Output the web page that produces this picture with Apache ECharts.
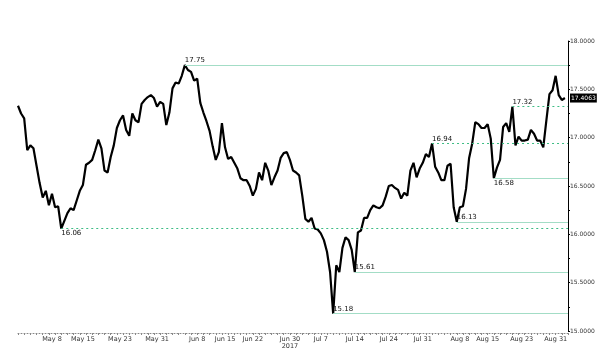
<!DOCTYPE html>
<html>
<head>
<meta charset="utf-8">
<script src="https://cdn.jsdelivr.net/npm/echarts@6/dist/echarts.min.js"></script>
<style>html,body{margin:0;padding:0;background:#fff}#c{width:600px;height:364px}</style>
</head>
<body>
<div id="c"></div>
<script>
// Price path, two samples per trading day (May 1 - Aug 31, 2017)
var closes = [
17.33,17.25,17.20,16.87,16.92,16.89,16.71,16.53,16.38,16.45,
16.30,16.42,16.28,16.29,16.06,16.14,16.22,16.27,16.25,16.35,
16.45,16.51,16.72,16.74,16.77,16.87,16.98,16.89,16.66,16.64,
16.80,16.92,17.10,17.18,17.23,17.08,17.02,17.25,17.18,17.16,
17.35,17.39,17.42,17.44,17.41,17.32,17.37,17.35,17.13,17.26,
17.51,17.57,17.56,17.64,17.75,17.70,17.68,17.59,17.61,17.36,
17.26,17.17,17.07,16.91,16.77,16.85,17.15,16.90,16.78,16.80,
16.74,16.68,16.58,16.56,16.56,16.50,16.40,16.47,16.64,16.56,
16.74,16.66,16.51,16.59,16.66,16.79,16.84,16.85,16.77,16.66,
16.64,16.61,16.40,16.16,16.13,16.17,16.06,16.05,16.01,15.94,
15.82,15.61,15.18,15.68,15.61,15.86,15.97,15.94,15.84,15.61,
16.02,16.04,16.17,16.17,16.25,16.30,16.28,16.27,16.30,16.39,
16.50,16.51,16.48,16.46,16.37,16.43,16.40,16.66,16.74,16.59,
16.68,16.74,16.83,16.80,16.94,16.70,16.64,16.56,16.56,16.71,
16.73,16.28,16.13,16.28,16.29,16.47,16.79,16.94,17.16,17.14,
17.10,17.10,17.14,16.99,16.58,16.69,16.77,17.11,17.15,17.06,
17.32,16.92,17.01,16.97,16.97,16.98,17.08,17.04,16.97,16.97,
16.90,17.18,17.45,17.49,17.64,17.44,17.39,17.41
];
var lastPrice = 17.4063;

// x tick labels and the sample slot each sits on
var tickLabels = ['May 8','May 15','May 23','May 31','Jun 8','Jun 15','Jun 22','Jun 30\n2017','Jul 7','Jul 14','Jul 24','Jul 31','Aug 8','Aug 15','Aug 23','Aug 31'];
var tickSlots  = [11, 21, 33, 45, 58, 67, 76, 88, 98, 109, 120, 131, 143, 152, 163, 174];

// annotated levels
var levelValues = [17.75, 17.32, 16.94, 16.58, 16.13, 16.06, 15.61, 15.18];
var levelStart  = [54, 160, 134, 154, 142, 14, 109, 102];
var levelDashed = [false, true, true, false, false, true, false, false];
var levelBelow  = [false, false, false, true, false, true, false, false];

var nSlots = closes.length + 1;
var cats = [];
for (var i = 0; i < nSlots; i++) cats.push(String(i));
var seriesData = closes.slice(); seriesData.push('-');

var labelMap = {};
tickSlots.forEach(function (s, k) { labelMap[s] = tickLabels[k]; });

var mlData = levelValues.map(function (v, k) {
  return [
    {
      coord: [levelStart[k], v],
      lineStyle: { color: levelDashed[k] ? '#3dbd85' : '#a3ddc6', width: 1, type: levelDashed[k] ? [2, 3] : 'solid' },
      label: { show: true, formatter: v.toFixed(2), position: levelBelow[k] ? 'insideStartBottom' : 'insideStartTop',
               distance: [0, 1], color: '#111', fontSize: 7, fontFamily: 'DejaVu Sans', padding: 0 }
    },
    { coord: [nSlots - 1, v] }
  ];
});

var chart = echarts.init(document.getElementById('c'), null, { renderer: 'canvas' });
chart.setOption({
  animation: false,
  backgroundColor: '#fff',
  grid: { left: 18, right: 32, top: 41, bottom: 33 },
  xAxis: {
    type: 'category', data: cats, boundaryGap: false, offset: 2,
    axisLine: { show: true, lineStyle: { color: '#888', type: [1, 2], width: 1 } },
    axisTick: { show: true, interval: function (i) { return i % 2 === 0; }, length: 2, lineStyle: { color: '#888' } },
    axisLabel: {
      interval: function (i) { return labelMap[i] !== undefined; },
      formatter: function (v, i) { return labelMap[i] || ''; },
      fontSize: 6.5, color: '#333', fontFamily: 'DejaVu Sans', margin: 3, lineHeight: 7
    },
    splitLine: { show: false }
  },
  yAxis: {
    type: 'value', position: 'right', min: 15, max: 18, interval: 0.5,
    axisLine: { show: true, lineStyle: { color: '#000', width: 1 } },
    axisTick: { show: true, length: 2, lineStyle: { color: '#000' } },
    minorTick: { show: true, splitNumber: 2, length: 2, lineStyle: { color: '#000' } },
    axisLabel: { formatter: function (v) { return v.toFixed(4); }, fontSize: 6, color: '#333', fontFamily: 'DejaVu Sans', margin: 2 },
    splitLine: { show: false }
  },
  series: [{
    type: 'line', data: seriesData, symbol: 'none', smooth: false,
    lineStyle: { color: '#000', width: 2.2 },
    markLine: { silent: true, symbol: ['none', 'none'], animation: false, data: mlData }
  }, {
    type: 'line', data: [], symbol: 'none',
    markLine: {
      silent: true, symbol: ['none', 'none'], animation: false,
      data: [{
        yAxis: lastPrice,
        lineStyle: { color: 'rgba(0,0,0,0)', width: 1 },
        label: { show: true, position: 'end', formatter: lastPrice.toFixed(4), color: '#fff', backgroundColor: '#000',
                 fontSize: 6, fontFamily: 'DejaVu Sans', padding: [2, 1, 1, 1], distance: 2 }
      }]
    }
  }]
});
</script>
</body>
</html>
